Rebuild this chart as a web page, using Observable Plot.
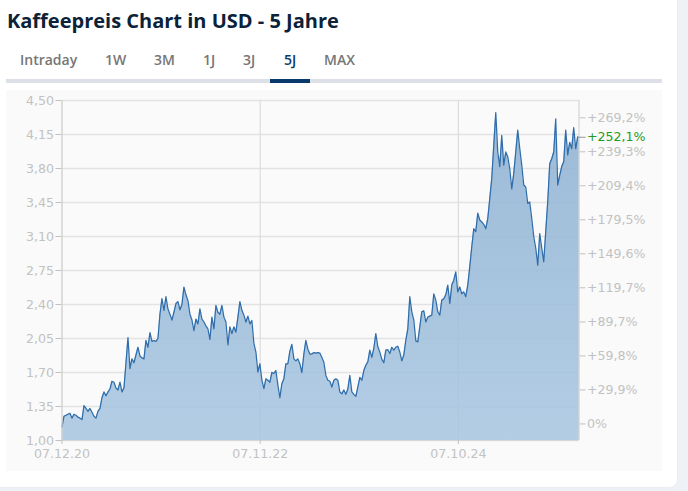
<!DOCTYPE html>
<html lang="de"><head><meta charset="utf-8">
<script src="https://cdn.jsdelivr.net/npm/d3@7"></script>
<script src="https://cdn.jsdelivr.net/npm/@observablehq/plot@0.6"></script>
<style>
html,body{margin:0;padding:0;width:688px;height:491px;overflow:hidden;background:#eef1f5;}
#card{position:absolute;left:0;top:0;width:677px;height:487px;background:#fff;border-bottom-right-radius:7px;box-shadow:0 0 2px #dfe3e8;font-family:"Open Sans",sans-serif;}
#title{position:absolute;left:7px;top:7px;font-size:20px;line-height:27px;font-weight:700;color:#0b2239;margin:0;white-space:nowrap;}
#tabs{position:absolute;left:6px;top:44px;width:656px;height:39px;box-sizing:border-box;border-bottom:4px solid #dde1e7;}
#tabs span{position:absolute;top:6px;font-size:14px;line-height:19px;font-weight:600;color:#767676;}
#tabs span.on{color:#0d3a6b;}
#bar{position:absolute;left:270px;top:79px;width:40px;height:4px;background:#0a3a6b;}
#chart{position:absolute;left:6px;top:90px;width:656px;height:381px;background:#fafafa;}
#chart svg{display:block;background:transparent;}
</style></head>
<body>
<div id="card">
<h1 id="title">Kaffeepreis Chart in USD - 5 Jahre</h1>
<div id="tabs"></div>
<div id="bar"></div>
<div id="chart"></div>
</div>
<script>
const tabs = ["Intraday","1W","3M","1J","3J","5J","MAX"];
const tabLefts = [14,99,148,197,237,278,318];
const activeTab = "5J";
const startDate = "2020-12-07";
const endDate = "2025-12-07";
const stepDays = 7.06;
const prices = [
1.14,1.25,1.26,1.27,1.28,1.23,1.27,1.26,1.24,1.23,1.215,1.36,1.33,1.30,1.33,1.29,1.25,1.23,1.30,1.33,
1.44,1.50,1.46,1.50,1.53,1.61,1.60,1.54,1.52,1.60,1.50,1.54,1.80,2.06,1.74,1.84,1.80,1.88,1.96,1.87,
1.85,1.84,2.03,1.96,2.11,2.02,2.03,2.02,2.05,2.30,2.46,2.34,2.48,2.355,2.30,2.24,2.32,2.41,2.43,2.345,
2.40,2.58,2.50,2.44,2.30,2.24,2.13,2.25,2.20,2.355,2.25,2.22,2.18,2.15,2.04,2.27,2.15,2.39,2.32,2.30,
2.39,2.27,2.22,1.985,2.17,2.10,2.17,2.115,2.27,2.43,2.34,2.29,2.22,2.28,2.20,2.235,2.00,1.91,1.705,1.79,
1.62,1.535,1.635,1.62,1.60,1.70,1.69,1.72,1.57,1.44,1.585,1.635,1.79,1.79,1.92,1.99,1.84,1.82,1.84,1.79,
1.70,1.89,2.03,1.94,1.89,1.89,1.905,1.90,1.905,1.90,1.855,1.805,1.67,1.62,1.61,1.55,1.62,1.635,1.62,1.50,
1.48,1.52,1.475,1.53,1.67,1.50,1.475,1.455,1.55,1.65,1.62,1.72,1.775,1.81,1.93,1.855,1.95,2.10,1.965,1.91,
1.835,1.80,1.93,1.935,1.895,1.96,1.93,1.96,1.97,1.91,1.82,1.88,2.03,2.15,2.48,2.325,2.24,2.025,2.015,2.17,
2.325,2.335,2.22,2.27,2.28,2.29,2.51,2.445,2.325,2.29,2.445,2.46,2.50,2.60,2.41,2.60,2.65,2.735,2.53,2.58,
2.51,2.53,2.48,2.60,2.79,2.995,3.18,3.15,3.34,3.27,3.25,3.225,3.18,3.285,3.49,3.70,4.04,4.375,3.97,3.82,
4.14,3.835,3.97,3.92,3.80,3.59,3.75,3.97,4.195,4.005,3.835,3.63,3.61,3.44,3.455,3.285,3.10,2.98,2.805,3.13,
2.98,2.84,3.15,3.46,3.85,3.90,3.97,4.31,3.63,3.73,3.82,3.87,4.195,3.94,4.07,4.005,4.22,4.005,4.125,4.12
];
const priceTicks = [1.00,1.35,1.70,2.05,2.40,2.75,3.10,3.45,3.80,4.15,4.50];
const dateTicks = ["2020-12-07","2022-11-07","2024-10-07"];
const dateLabels = ["07.12.20","07.11.22","07.10.24"];
const basePrice = 1.1706;
const pctTicks = [0,29.9,59.8,89.7,119.7,149.6,179.5,209.4,239.3,269.2];
const pctCurrent = 252.1;

const tabsEl = document.getElementById("tabs");
tabs.forEach((t,i)=>{const s=document.createElement("span");s.textContent=t;s.style.left=tabLefts[i]+"px";if(t===activeTab)s.className="on";tabsEl.appendChild(s);});

const t0 = new Date(startDate);
const series = prices.map((p,i)=>({date:new Date(+t0+i*stepDays*864e5),price:p}));
const dec = (v,n)=>v.toFixed(n).replace(".",",");
const pctLabel = p => p===0 ? "0%" : "+"+dec(p,1)+"%";
const pctPrice = p => basePrice*(1+p/100);
const byPrice = new Map(pctTicks.map(p=>[pctPrice(p),pctLabel(p)]));
const xDates = dateTicks.map(d=>new Date(d));
const xLab = new Map(xDates.map((d,i)=>[+d,dateLabels[i]]));
const grey="#c2c2c2", font='"DejaVu Sans",sans-serif';

const plot = Plot.plot({
  width:656,height:381,marginLeft:55.5,marginRight:83.5,marginTop:10,marginBottom:31,
  style:{background:"transparent",fontFamily:font,fontSize:"12.6px"},
  x:{type:"utc",domain:[t0,new Date(endDate)]},
  y:{domain:[1,4.5]},
  marks:[
    ()=>{const s=d3.create("svg:defs");s.html('<linearGradient id="areaFill" x1="0" y1="0" x2="0" y2="1"><stop offset="0" stop-color="#8fb2d3" stop-opacity=".88"/><stop offset="1" stop-color="#a6c5e0" stop-opacity=".85"/></linearGradient>');return s.node();},
    Plot.ruleY(priceTicks,{stroke:"#e3e3e3",strokeWidth:1.3}),
    Plot.ruleX(xDates,{stroke:"#dcdcdc",strokeWidth:1.2}),
    Plot.areaY(series,{x:"date",y:"price",y1:1,fill:"url(#areaFill)"}),
    Plot.lineY(series,{x:"date",y:"price",stroke:"#2f6dab",strokeWidth:1.25}),
    Plot.ruleX([t0,new Date(endDate)],{stroke:"#d6d6d6",strokeWidth:1.2}),
    Plot.ruleY([1],{stroke:"#d6d6d6",strokeWidth:1.2}),
    Plot.axisY(priceTicks,{anchor:"left",label:null,tickSize:6,tickPadding:2,stroke:grey,fill:grey,fontSize:12.6,tickFormat:v=>dec(v,2)}),
    Plot.axisY([...byPrice.keys()],{anchor:"right",label:null,tickSize:6,tickPadding:2,stroke:grey,fill:grey,fontSize:12.6,tickFormat:v=>byPrice.get(v)}),
    Plot.axisY([pctPrice(pctCurrent)],{anchor:"right",label:null,tickSize:6,tickPadding:2,stroke:"#9a9a9a",fill:"#1f9a1f",fontSize:12.6,tickFormat:()=>pctLabel(pctCurrent)}),
    Plot.axisX(xDates,{anchor:"bottom",label:null,tickSize:4,tickPadding:5,stroke:grey,fill:grey,fontSize:12.6,tickFormat:d=>xLab.get(+d)})
  ]
});
document.getElementById("chart").appendChild(plot);
</script>
</body></html>
